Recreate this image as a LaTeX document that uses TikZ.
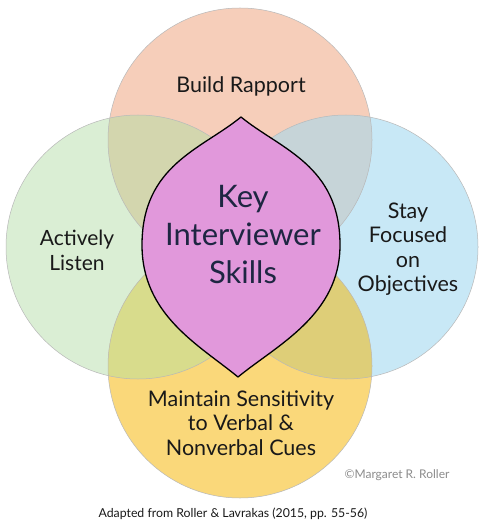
\documentclass[tikz,border=0pt]{standalone}
\usepackage{fontspec}
\setmainfont{Lato}
\definecolor{peach}{RGB}{246,206,186}
\definecolor{mint}{RGB}{218,238,212}
\definecolor{sky}{RGB}{200,232,246}
\definecolor{sun}{RGB}{250,216,122}
\definecolor{tlmix}{RGB}{211,214,174}
\definecolor{trmix}{RGB}{198,212,216}
\definecolor{blmix}{RGB}{216,220,140}
\definecolor{brmix}{RGB}{222,206,120}
\definecolor{orchid}{RGB}{225,152,219}
\definecolor{navy}{RGB}{30,38,66}
\definecolor{ink}{RGB}{25,25,25}
\begin{document}
\begin{tikzpicture}[x=1pt,y=-1pt,
  ring/.style={draw=black!28, line width=0.5pt},
  txt/.style={text=ink, align=center, inner sep=0pt},
  leaf/.style={fill=orchid, draw=black, line width=1.3pt, line join=round}]
\useasboundingbox (0,0) rectangle (488,529);
\fill[white] (0,0) rectangle (488,529);
\coordinate (ct) at (240,140);
\coordinate (cl) at (138,247);
\coordinate (cr) at (346,247);
\coordinate (cb) at (240,366);
% circles
\fill[peach] (ct) circle[radius=132pt];
\fill[mint] (cl) circle[radius=132pt];
\fill[sky] (cr) circle[radius=132pt];
\fill[sun] (cb) circle[radius=132pt];
% overlaps
\begin{scope}
  \clip (ct) circle[radius=132pt];
  \fill[tlmix] (cl) circle[radius=132pt];
  \fill[trmix] (cr) circle[radius=132pt];
\end{scope}
\begin{scope}
  \clip (cb) circle[radius=132pt];
  \fill[blmix] (cl) circle[radius=132pt];
  \fill[brmix] (cr) circle[radius=132pt];
\end{scope}
% outlines
\draw[ring] (ct) circle[radius=132pt];
\draw[ring] (cl) circle[radius=132pt];
\draw[ring] (cr) circle[radius=132pt];
\draw[ring] (cb) circle[radius=132pt];
% central leaf
\draw[leaf] (241,117) .. controls (202,149) and (142,165) .. (142,245)
  .. controls (142,315) and (199,345) .. (238,377)
  .. controls (277,345) and (340,315) .. (340,245)
  .. controls (340,165) and (280,149) .. cycle;
% texts
\node[txt, font=\fontsize{21.5}{24}\selectfont] (rapport) at (241,86) {Build Rapport};
\node[txt, text=navy, font=\fontsize{31}{38}\selectfont] (key) at (243,235) {Key\\Interviewer\\Skills};
\node[txt, font=\fontsize{21}{25}\selectfont] (listen) at (77,250) {Actively\\Listen};
\node[txt, font=\fontsize{21.5}{24.5}\selectfont] (focus) at (408,249) {Stay\\Focused\\on\\Objectives};
\node[txt, font=\fontsize{21.5}{24.5}\selectfont] (sens) at (241,423) {Maintain Sensitivity\\to Verbal \&\\Nonverbal Cues};
\node[txt, text=black!45, font=\fontsize{12}{14}\selectfont] (copy) at (397,475) {©Margaret R. Roller};
\node[txt, font=\fontsize{12.3}{14}\selectfont] (cap) at (233,514) {Adapted from Roller \& Lavrakas (2015, pp. 55-56)};
\end{tikzpicture}
\end{document}
